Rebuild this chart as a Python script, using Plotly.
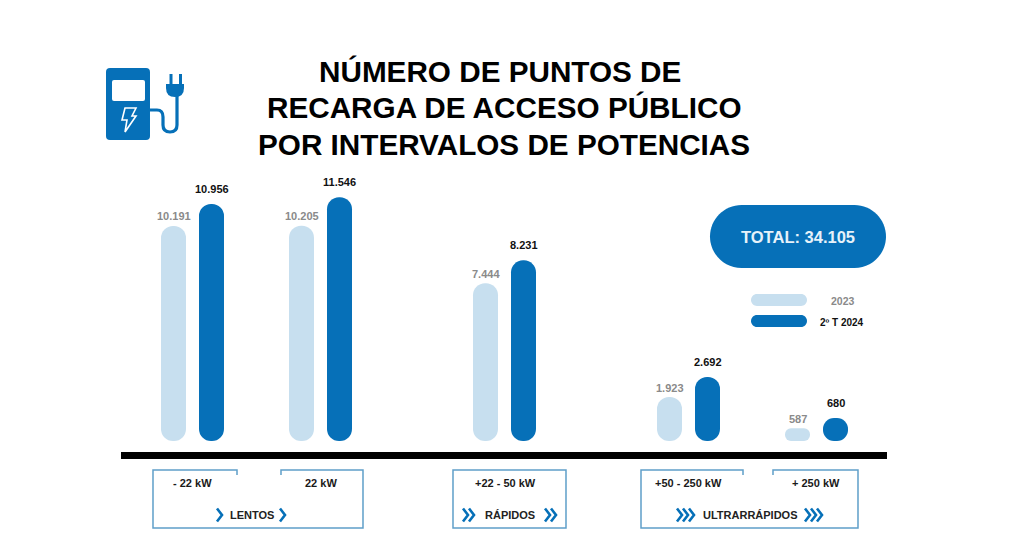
import plotly.graph_objects as go

W, H = 1024, 557
BASE_Y = 441
UNITS_PER_PX = 47.39

# ---- data ----
groups = ["- 22 kW", "22 kW", "+22 - 50 kW", "+50 - 250 kW", "+ 250 kW"]
labels_2023 = ["10.191", "10.205", "7.444", "1.923", "587"]
labels_2024 = ["10.956", "11.546", "8.231", "2.692", "680"]
# bar lengths as drawn in the picture
drawn_2023 = [10191, 10205, 7480, 2085, 600]
drawn_2024 = [11230, 11546, 8560, 3030, 1090]
title_lines = ["NÚMERO DE PUNTOS DE", "RECARGA DE ACCESO PÚBLICO", "POR INTERVALOS DE POTENCIAS"]
series_names = ["2023", "2º T 2024"]
total_label = "TOTAL: 34.105"
family_labels = ["LENTOS", "RÁPIDOS", "ULTRARRÁPIDOS"]

# ---- layout constants ----
x_2023 = [173.5, 301.5, 485.5, 669.5, 797.5]
x_2024 = [211.5, 339.5, 523.5, 707.5, 835.5]
LIGHT, DARK, BOX = "#c7dfef", "#0670b8", "#5f9fc9"
GREY = "#8a8a8a"
FONT = "Liberation Sans, Arial, sans-serif"


def px(x):
    return x / W


def py(y):
    return 1 - y / H


def path(cmds):
    """cmds: list of (letter, x, y, ...) in pixel coordinates -> paper path"""
    out = []
    for c in cmds:
        if c[0] == "Z":
            out.append("Z")
            continue
        nums = c[1:]
        conv = [f"{px(nums[i]):.5f},{py(nums[i + 1]):.5f}" for i in range(0, len(nums), 2)]
        out.append(c[0] + " " + " ".join(conv))
    return " ".join(out)


def shape(cmds, fill=None, line=None, width=0):
    return dict(
        type="path", xref="paper", yref="paper", path=path(cmds),
        fillcolor=fill if fill else "rgba(0,0,0,0)",
        line=dict(color=line if line else "rgba(0,0,0,0)", width=width),
        layer="above",
    )


def pill(x0, y0, x1, y1, fill):
    r = (y1 - y0) / 2
    k = r * 0.45
    return shape([
        ("M", x0 + r, y0), ("L", x1 - r, y0),
        ("C", x1 - k, y0, x1, y0 + k, x1, y0 + r),
        ("C", x1, y1 - k, x1 - k, y1, x1 - r, y1),
        ("L", x0 + r, y1),
        ("C", x0 + k, y1, x0, y1 - k, x0, y0 + r),
        ("C", x0, y0 + k, x0 + k, y0, x0 + r, y0), ("Z",),
    ], fill=fill)


def text(s, x, y, size, color="#1a1a1a", bold=True):
    return dict(
        text=f"<b>{s}</b>" if bold else s, x=px(x), y=py(y), xref="paper", yref="paper",
        showarrow=False, xanchor="center", yanchor="middle",
        font=dict(family=FONT, size=size, color=color),
    )


def chevrons(x, y, n, h=13, w=5, step=6):
    out = []
    for i in range(n):
        xi = x + i * step
        out.append(shape([("M", xi, y - h / 2), ("L", xi + w, y), ("L", xi, y + h / 2)], line=DARK, width=2.6))
    return out


fig = go.Figure()
# an explicit base makes plotly round both ends of each bar
fig.add_bar(x=x_2023, y=drawn_2023, base=[0] * len(drawn_2023), width=25,
            marker=dict(color=LIGHT, line_width=0), name=series_names[0])
fig.add_bar(x=x_2024, y=drawn_2024, base=[0] * len(drawn_2024), width=25,
            marker=dict(color=DARK, line_width=0), name=series_names[1])

shapes = []
# icon
shapes.append(shape([
    ("M", 110, 68), ("L", 146, 68), ("Q", 150, 68, 150, 72), ("L", 150, 136), ("Q", 150, 140, 146, 140),
    ("L", 110, 140), ("Q", 106, 140, 106, 136), ("L", 106, 72), ("Q", 106, 68, 110, 68), ("Z",)], fill=DARK))
shapes.append(shape([
    ("M", 114, 80), ("L", 143, 80), ("Q", 145, 80, 145, 82), ("L", 145, 99), ("Q", 145, 101, 143, 101),
    ("L", 114, 101), ("Q", 112, 101, 112, 99), ("L", 112, 82), ("Q", 112, 80, 114, 80), ("Z",)], fill="#ffffff"))
shapes.append(shape([
    ("M", 125, 108), ("L", 136, 108), ("L", 132, 116), ("L", 136, 116), ("L", 125, 132),
    ("L", 127, 120), ("L", 122, 120), ("Z",)], line="#ffffff", width=1.6))
shapes.append(shape([
    ("M", 150, 110), ("L", 157, 110), ("Q", 163, 110, 163, 117), ("L", 163, 125),
    ("Q", 163, 132, 170, 132), ("Q", 177, 132, 177, 125), ("L", 177, 96)], line=DARK, width=3.2))
shapes.append(shape([
    ("M", 166, 84), ("L", 184, 84), ("L", 184, 88), ("Q", 184, 97, 175, 97),
    ("Q", 166, 97, 166, 88), ("Z",)], fill=DARK))
shapes.append(shape([("M", 169.5, 74), ("L", 172.5, 74), ("L", 172.5, 84), ("L", 169.5, 84), ("Z",)], fill=DARK))
shapes.append(shape([("M", 179, 74), ("L", 182, 74), ("L", 182, 84), ("L", 179, 84), ("Z",)], fill=DARK))
# base line
shapes.append(shape([("M", 121, 452), ("L", 887, 452), ("L", 887, 459), ("L", 121, 459), ("Z",)], fill="#000000"))
# total + legend
shapes.append(pill(710, 205, 886, 268, DARK))
shapes.append(pill(751, 294, 807, 306, LIGHT))
shapes.append(pill(751, 315, 807, 327, DARK))
# group boxes
shapes.append(shape([("M", 237, 475), ("L", 237, 470), ("L", 153, 470), ("L", 153, 528), ("L", 363, 528),
                     ("L", 363, 470), ("L", 281, 470), ("L", 281, 475)], line=BOX, width=1.5))
shapes.append(shape([("M", 453, 470), ("L", 566, 470), ("L", 566, 528), ("L", 453, 528), ("Z",)], line=BOX, width=1.5))
shapes.append(shape([("M", 743, 475), ("L", 743, 470), ("L", 641, 470), ("L", 641, 528), ("L", 858, 528),
                     ("L", 858, 470), ("L", 773, 470), ("L", 773, 475)], line=BOX, width=1.5))
# chevrons
shapes += chevrons(217, 515, 1) + chevrons(280, 515, 1)
shapes += chevrons(463, 515, 2) + chevrons(545, 515, 2)
shapes += chevrons(677, 515, 3) + chevrons(805, 515, 3)

ann = []
for xs, vals, labs, col, shift in [(x_2023, drawn_2023, labels_2023, GREY, 9.5),
                                   (x_2024, drawn_2024, labels_2024, "#111111", 15)]:
    for x, v, t in zip(xs, vals, labs):
        ann.append(dict(x=x, y=v, xref="x", yref="y", text=f"<b>{t}</b>", showarrow=False, yshift=shift,
                        xanchor="center", yanchor="middle",
                        font=dict(family=FONT, size=11, color=col)))
for line, x, y in zip(title_lines, [500, 504, 504], [71, 108, 145]):
    ann.append(text(line, x, y, 29.7, "#000000"))
ann.append(text(total_label, 798, 237, 16.5, "#e6f2fa"))
ann.append(text(series_names[0], 843, 301, 10.5, GREY))
ann.append(text(series_names[1], 842, 322, 10, "#111111"))
for g, x in zip(groups, [192, 320.5, 505, 688, 816]):
    ann.append(text(g, x, 483, 11))
for f, x in zip(family_labels, [252, 509.5, 750]):
    ann.append(text(f, x, 515, 11, "#222222"))

fig.update_layout(
    width=W, height=H,
    margin=dict(l=0, r=0, t=0, b=0),
    paper_bgcolor="#ffffff", plot_bgcolor="#ffffff",
    barmode="overlay", barcornerradius=13, showlegend=False,
    xaxis=dict(range=[0, W], visible=False, fixedrange=True),
    yaxis=dict(range=[-(H - BASE_Y) * UNITS_PER_PX, BASE_Y * UNITS_PER_PX], visible=False, fixedrange=True),
    shapes=shapes, annotations=ann,
)
fig.write_html("out.html", config={"displayModeBar": False},
               post_script="document.body.style.margin='0';document.documentElement.style.overflow='hidden';")
